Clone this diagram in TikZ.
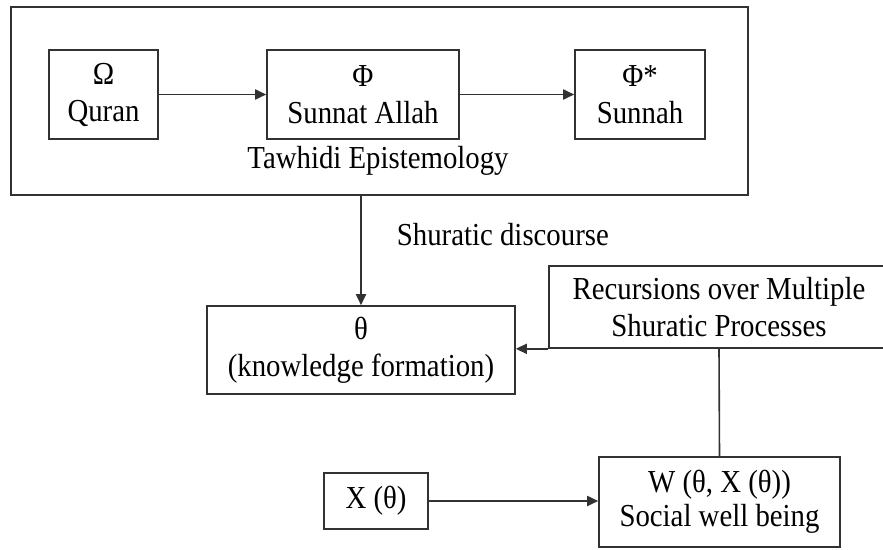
\documentclass[tikz,border=0pt]{standalone}
\usepackage{fontspec}
\setmainfont{Liberation Serif}[FakeStretch=0.9]
\usetikzlibrary{arrows.meta,positioning}
\definecolor{linecol}{RGB}{50,50,50}

\begin{document}
\begin{tikzpicture}[
    x=1pt, y=-1pt,
    >={Triangle[length=11pt,width=10pt]},
    block/.style={rectangle, draw=linecol, line width=1.6pt, align=center, inner sep=0pt, font=\fontsize{32}{37}\selectfont},
    lbl/.style={inner sep=0pt, font=\fontsize{32}{37}\selectfont},
    arrow/.style={->, draw=linecol, line width=1.8pt},
]
\useasboundingbox (0,0) rectangle (883,549);
\node[block, line width=2pt, minimum width=737pt, minimum height=188pt] (epist) at (379.3,100.8) {};
\node[block, minimum width=109pt, minimum height=89pt] (quran) at (103.5,94.5) {Ω\\Quran};
\node[block, minimum width=192pt, minimum height=89pt] (sunnat) at (363,94.5) {Φ\\Sunnat Allah};
\node[block, minimum width=130pt, minimum height=89pt] (sunnah) at (640,94.5) {Φ*\\Sunnah};
\node[lbl] (tawhid) at (378,161) {Tawhidi Epistemology};

\node[block, minimum width=308pt, minimum height=88pt] (know) at (361,350) {θ\\(knowledge formation)};
\node[block, minimum width=340pt, minimum height=82pt] (recur) at (719,307) {Recursions over Multiple\\Shuratic Processes};
\node[block, minimum width=104pt, minimum height=56pt] (xtheta) at (376,501) {X (θ)};
\node[block, minimum width=241pt, minimum height=90pt, font=\fontsize{32}{34}\selectfont] (welfare) at (719.5,502) {W (θ, X (θ))\\Social well being};

\draw[arrow] (quran) -- (sunnat);
\draw[arrow] (sunnat) -- (sunnah);
\draw[arrow] (know.north |- epist.south) -- node[lbl, pos=0.35, right=35pt] (shura) {Shuratic discourse} (know.north);
\draw[arrow] (recur.south west) -- (recur.south west -| know.east);
\draw[draw=linecol, line width=1.6pt] (recur.south) -- (welfare.north);
\draw[arrow] (xtheta.east) -- (xtheta.east -| welfare.west);
\end{tikzpicture}
\end{document}
